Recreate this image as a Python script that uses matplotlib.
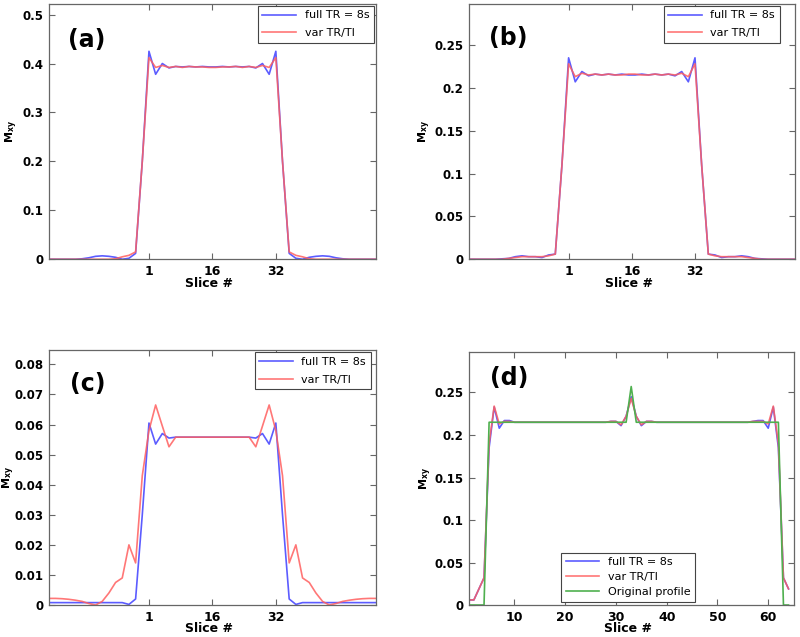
import matplotlib
matplotlib.use('Agg')
import matplotlib.pyplot as plt

# sample index 0..49 for panels a-c, slice ticks placed on samples 15 / 24.5 / 34
samples = list(range(50))
slice_tick_pos = [15, 24.5, 34]
slice_tick_lab = ['1', '16', '32']

a_full = [0, 0, 0, 0, 0, 0.001, 0.003, 0.006, 0.007, 0.006,
          0.004, 0.0, 0.002, 0.012, 0.2, 0.425, 0.378, 0.400, 0.391, 0.394,
          0.393, 0.394, 0.393, 0.394, 0.393, 0.393, 0.394, 0.393, 0.394, 0.393,
          0.394, 0.391, 0.400, 0.378, 0.425, 0.2, 0.012, 0.002, 0.0, 0.004,
          0.006, 0.007, 0.006, 0.003, 0.001, 0, 0, 0, 0, 0]
a_var = [0, 0, 0, 0, 0, 0, 0, 0, 0, 0,
         0.001, 0.005, 0.008, 0.015, 0.2, 0.412, 0.392, 0.396, 0.392, 0.394,
         0.392, 0.394, 0.393, 0.393, 0.392, 0.392, 0.393, 0.393, 0.394, 0.392,
         0.394, 0.392, 0.396, 0.392, 0.412, 0.2, 0.015, 0.008, 0.005, 0.001,
         0, 0, 0, 0, 0, 0, 0, 0, 0, 0]

b_full = [0, 0, 0, 0, 0, 0.0005, 0.001, 0.003, 0.004, 0.003,
          0.003, 0.002, 0.005, 0.006, 0.11, 0.235, 0.207, 0.219, 0.214, 0.216,
          0.215, 0.216, 0.215, 0.216, 0.215, 0.215, 0.216, 0.215, 0.216, 0.215,
          0.216, 0.214, 0.219, 0.207, 0.235, 0.11, 0.006, 0.005, 0.002, 0.003,
          0.003, 0.004, 0.003, 0.001, 0.0005, 0, 0, 0, 0, 0]
b_var = [0, 0, 0, 0, 0, 0, 0.001, 0.002, 0.003, 0.003,
         0.003, 0.003, 0.004, 0.006, 0.11, 0.228, 0.213, 0.217, 0.215, 0.216,
         0.215, 0.216, 0.215, 0.215, 0.216, 0.216, 0.215, 0.215, 0.216, 0.215,
         0.216, 0.215, 0.217, 0.213, 0.228, 0.11, 0.006, 0.004, 0.003, 0.003,
         0.003, 0.003, 0.002, 0.001, 0, 0, 0, 0, 0, 0]

c_full = [0.0008, 0.0008, 0.0008, 0.0008, 0.0008, 0.0008, 0.0008, 0.0008, 0.0008, 0.0008,
          0.0008, 0.0008, 0.0002, 0.002, 0.030, 0.0605, 0.0535, 0.057, 0.0555, 0.0558,
          0.0558, 0.0558, 0.0558, 0.0558, 0.0558, 0.0558, 0.0558, 0.0558, 0.0558, 0.0558,
          0.0558, 0.0555, 0.057, 0.0535, 0.0605, 0.030, 0.002, 0.0002, 0.0008, 0.0008,
          0.0008, 0.0008, 0.0008, 0.0008, 0.0008, 0.0008, 0.0008, 0.0008, 0.0008, 0.0008]
c_var = [0.0022, 0.0022, 0.0021, 0.0019, 0.0016, 0.0012, 0.0005, 0.0, 0.0012, 0.004,
         0.0075, 0.009, 0.020, 0.014, 0.043, 0.058, 0.0665, 0.0595, 0.0526, 0.0558,
         0.0558, 0.0558, 0.0558, 0.0558, 0.0558, 0.0558, 0.0558, 0.0558, 0.0558, 0.0558,
         0.0558, 0.0526, 0.0595, 0.0665, 0.058, 0.043, 0.014, 0.020, 0.009, 0.0075,
         0.004, 0.0012, 0.0, 0.0005, 0.0012, 0.0016, 0.0019, 0.0021, 0.0022, 0.0022]

# panel d: slices 1..64
d_slices = list(range(1, 65))
d_full = [0.006, 0.006, 0.019, 0.032, 0.185, 0.233, 0.208, 0.217, 0.217, 0.215,
          0.215, 0.215, 0.215, 0.215, 0.215, 0.215, 0.215, 0.215, 0.215, 0.215,
          0.215, 0.215, 0.215, 0.215, 0.215, 0.215, 0.215, 0.215, 0.216, 0.216,
          0.211, 0.222, 0.245, 0.222, 0.211, 0.216, 0.216, 0.215, 0.215, 0.215,
          0.215, 0.215, 0.215, 0.215, 0.215, 0.215, 0.215, 0.215, 0.215, 0.215,
          0.215, 0.215, 0.215, 0.215, 0.215, 0.215, 0.216, 0.217, 0.217, 0.208,
          0.233, 0.185, 0.032, 0.019]
d_var = [0.006, 0.006, 0.019, 0.032, 0.19, 0.234, 0.213, 0.216, 0.216, 0.215,
         0.215, 0.215, 0.215, 0.215, 0.215, 0.215, 0.215, 0.215, 0.215, 0.215,
         0.215, 0.215, 0.215, 0.215, 0.215, 0.215, 0.215, 0.215, 0.216, 0.216,
         0.212, 0.222, 0.243, 0.222, 0.212, 0.216, 0.216, 0.215, 0.215, 0.215,
         0.215, 0.215, 0.215, 0.215, 0.215, 0.215, 0.215, 0.215, 0.215, 0.215,
         0.215, 0.215, 0.215, 0.215, 0.215, 0.215, 0.216, 0.216, 0.216, 0.213,
         0.234, 0.19, 0.032, 0.019]
d_orig = [0, 0, 0, 0] + [0.215] * 28 + [0.257] + [0.215] * 29 + [0, 0]

blue = '#5c5cff'
red = '#ff5f5f'
green = '#4fb04f'
grey = '#666666'

fig = plt.figure(figsize=(8, 6.37), dpi=100)

def style(ax, yticks, ylim, label, lab_pos, ylab_x):
    ax.set_ylim(ylim)
    ax.set_yticks(yticks)
    ax.set_yticklabels(['%g' % t for t in yticks], fontsize=8.5, fontweight='bold')
    ax.tick_params(direction='in', top=True, right=True, length=4, color=grey, pad=4)
    for s in ax.spines.values():
        s.set_color(grey)
        s.set_linewidth(0.9)
    ax.set_xlabel('Slice #', fontsize=9, fontweight='bold', va='center')
    ax.xaxis.set_label_coords(0.49, -0.093)
    ax.set_ylabel(r'$\mathbf{M_{xy}}$', fontsize=8, va='center')
    ax.yaxis.set_label_coords(ylab_x, 0.5)
    ax.text(lab_pos[0], lab_pos[1], label, transform=ax.transAxes,
            fontsize=17, fontweight='bold', ha='left', va='center')

panels = [
    ([0.061, 0.593, 0.409, 0.401], a_full, a_var, [0, 0.1, 0.2, 0.3, 0.4, 0.5], (0, 0.522), '(a)', (0.058, 0.86), -0.113, (1.0, 1.0)),
    ([0.586, 0.593, 0.4075, 0.401], b_full, b_var, [0, 0.05, 0.1, 0.15, 0.2, 0.25], (0, 0.298), '(b)', (0.061, 0.865), -0.135, (0.96, 1.0)),
    ([0.061, 0.0502, 0.409, 0.400], c_full, c_var, [0, 0.01, 0.02, 0.03, 0.04, 0.05, 0.06, 0.07, 0.08], (0, 0.0847), '(c)', (0.064, 0.867), -0.121, (0.99, 1.0)),
]

for pos, full, var, yt, yl, lab, lab_pos, ylx, anchor in panels:
    ax = fig.add_axes(pos)
    ax.plot(samples, full, color=blue, lw=1.2, label='full TR = 8s')
    ax.plot(samples, var, color=red, lw=1.2, alpha=0.85, label='var TR/TI')
    ax.set_xlim(0, 49)
    ax.set_xticks(slice_tick_pos)
    ax.set_xticklabels(slice_tick_lab, fontsize=9, fontweight='bold')
    style(ax, yt, yl, lab, lab_pos, ylx)
    leg = ax.legend(loc='upper right', bbox_to_anchor=anchor, fontsize=8, handlelength=3,
                    fancybox=False, framealpha=1, borderaxespad=0.2, labelspacing=0.7)
    leg.get_frame().set_edgecolor('#444444')
    leg.get_frame().set_linewidth(0.8)

ax = fig.add_axes([0.586, 0.0502, 0.406, 0.3977])
ax.plot(d_slices, d_full, color=blue, lw=1.2, label='full TR = 8s')
ax.plot(d_slices, d_var, color=red, lw=1.2, alpha=0.85, label='var TR/TI')
ax.plot(d_slices, d_orig, color=green, lw=1.2, label='Original profile')
ax.set_xlim(1, 65)
ax.set_xticks([10, 20, 30, 40, 50, 60])
ax.set_xticklabels(['10', '20', '30', '40', '50', '60'], fontsize=9, fontweight='bold')
style(ax, [0, 0.05, 0.1, 0.15, 0.2, 0.25], (0, 0.298), '(d)', (0.065, 0.896), -0.132)
leg = ax.legend(loc='lower center', bbox_to_anchor=(0.49, 0.0), fontsize=8, handlelength=3,
                fancybox=False, framealpha=1, borderaxespad=0.3, labelspacing=0.45)
leg.get_frame().set_edgecolor('#444444')
leg.get_frame().set_linewidth(0.8)

fig.savefig('out.png', dpi=100)
